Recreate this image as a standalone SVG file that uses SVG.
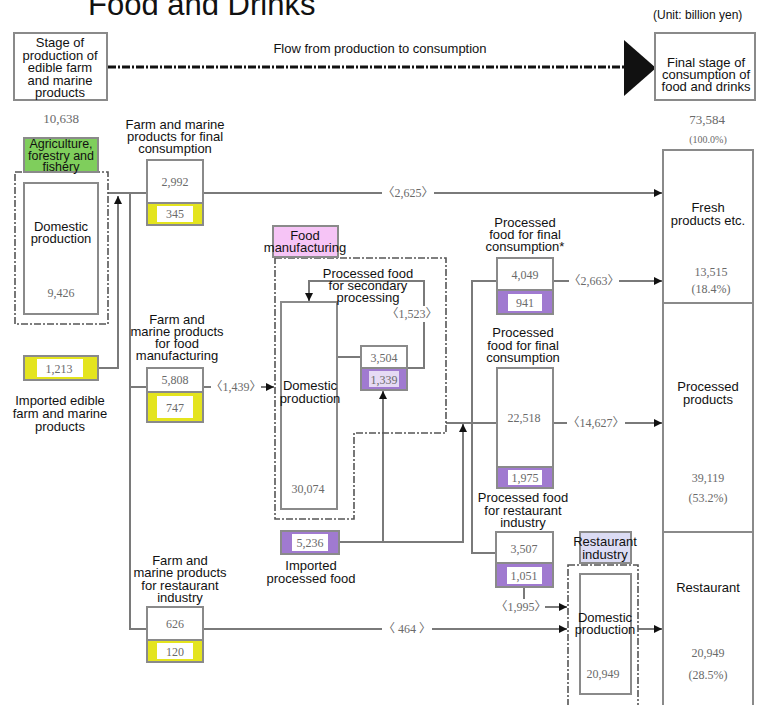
<svg xmlns="http://www.w3.org/2000/svg" width="759" height="705" viewBox="0 0 759 705">
<style>
.lbl{font-family:"Liberation Sans",Arial,sans-serif;font-size:13px;fill:#111;text-anchor:middle}
.num{font-family:"Liberation Serif","Times New Roman",serif;font-size:12px;fill:#6a6a6a;text-anchor:middle}
.br{font-family:"Liberation Serif","Noto Sans CJK JP",serif;font-size:12px;fill:#6a6a6a;text-anchor:middle}
.box{fill:#fff;stroke:#8a8a8a;stroke-width:2}
.yel{fill:#e4e41e;stroke:#8a8a8a;stroke-width:2}
.pur{fill:#a07ad0;stroke:#8a8a8a;stroke-width:2}
.inn{fill:#fff;stroke:none}
.dash{fill:none;stroke:#555;stroke-width:1.6;stroke-dasharray:7 2 2 2}
.con{fill:none;stroke:#7a7a7a;stroke-width:2}
.bg{fill:#fff}
</style>
<defs>
<marker id="ah" markerUnits="userSpaceOnUse" markerWidth="9" markerHeight="9" refX="8" refY="4.5" orient="auto">
<path d="M0,0.5 L8,4.5 L0,8.5 Z" fill="#111"/>
</marker>
</defs>
<rect width="759" height="705" fill="#fff"/>

<text x="88" y="15" style="font-family:'Liberation Sans',Arial,sans-serif;font-size:31px;fill:#111">Food and Drinks</text>
<text x="653" y="19" style="font-family:'Liberation Sans',Arial,sans-serif;font-size:12px;fill:#111">(Unit: billion yen)</text>

<g id="connectors">
<line x1="108" y1="67" x2="626" y2="67" style="stroke:#111;stroke-width:3;stroke-dasharray:8 2 2 2"/>
<polygon points="624,40 624,96 656,68" fill="#111"/>
<path class="con" d="M108,193 H147"/>
<path class="con" d="M130,193 V629 H147"/>
<path class="con" d="M130,387 H147"/>
<path class="con" d="M98,368 H118 V196" marker-end="url(#ah)"/>
<path class="con" d="M203,193 H662" marker-end="url(#ah)"/>
<path class="con" d="M203,387 H274" marker-end="url(#ah)"/>
<path class="con" d="M337,357 H361"/>
<path class="con" d="M407,368 H424 V281 H309 V301" marker-end="url(#ah)"/>
<path class="con" d="M339,542 H463 V424" marker-end="url(#ah)"/>
<path class="con" d="M383,542 V391" marker-end="url(#ah)"/>
<path class="con" d="M446,423 H497"/>
<path class="con" d="M497,281 H472 V553 H497"/>
<path class="con" d="M553,281 H662" marker-end="url(#ah)"/>
<path class="con" d="M553,423 H662" marker-end="url(#ah)"/>
<path class="con" d="M524,587 V607 H567" marker-end="url(#ah)"/>
<path class="con" d="M203,629 H567" marker-end="url(#ah)"/>
<path class="con" d="M638,629 H662" marker-end="url(#ah)"/>
<rect class="bg" x="382" y="185" width="52" height="16"/>
<text class="br" x="408" y="197">〈2,625〉</text>
<rect class="bg" x="211" y="379" width="50" height="16"/>
<text class="br" x="236" y="391">〈1,439〉</text>
<rect class="bg" x="388" y="306" width="48" height="16"/>
<text class="br" x="412" y="318">〈1,523〉</text>
<rect class="bg" x="569" y="273" width="50" height="16"/>
<text class="br" x="594" y="285">〈2,663〉</text>
<rect class="bg" x="567" y="415" width="58" height="16"/>
<text class="br" x="596" y="427">〈14,627〉</text>
<rect class="bg" x="498" y="599" width="47" height="16"/>
<text class="br" x="521" y="611">〈1,995〉</text>
<rect class="bg" x="382" y="621" width="50" height="16"/>
<text class="br" x="407" y="633">〈 464 〉</text>
</g>

<g id="stage-production">
<rect class="box" x="14" y="33" width="93" height="67"/>
<text class="lbl" y="47"><tspan x="60">Stage of</tspan><tspan x="60" dy="12.5">production of</tspan><tspan x="60" dy="12.5">edible farm</tspan><tspan x="60" dy="12.5">and marine</tspan><tspan x="60" dy="12.5">products</tspan></text>
<text class="num" x="61" y="123" style="font-size:13px">10,638</text>
</g>

<g id="flow-label">
<text class="lbl" x="380" y="53">Flow from production to consumption</text>
</g>

<g id="stage-consumption">
<rect class="box" x="655" y="33" width="100" height="67"/>
<text class="lbl" y="67"><tspan x="706">Final stage of</tspan><tspan x="706" dy="12">consumption of</tspan><tspan x="706" dy="12">food and drinks</tspan></text>
<text class="num" x="707" y="124" style="font-size:13px">73,584</text>
<text class="num" x="708" y="143" style="font-size:10px">(100.0%)</text>
</g>

<g id="agriculture">
<rect x="15" y="172" width="93" height="152" class="dash"/>
<rect x="24" y="138" width="74" height="34" fill="#7fce5c" stroke="#8a8a8a" stroke-width="2"/>
<text class="lbl" y="148" style="font-size:12.5px"><tspan x="61">Agriculture,</tspan><tspan x="61" dy="12">forestry and</tspan><tspan x="61" dy="11">fishery</tspan></text>
<rect class="box" x="24" y="183" width="74" height="131"/>
<text class="lbl" y="231"><tspan x="61">Domestic</tspan><tspan x="61" dy="12">production</tspan></text>
<text class="num" x="61" y="297">9,426</text>
</g>

<g id="imported-farm">
<rect class="yel" x="24" y="356" width="74" height="24"/>
<rect class="inn" x="37" y="359" width="46" height="18"/>
<text class="num" x="59" y="373">1,213</text>
<text class="lbl" y="405"><tspan x="60">Imported edible</tspan><tspan x="60" dy="13">farm and marine</tspan><tspan x="60" dy="13">products</tspan></text>
</g>

<g id="farm-final">
<text class="lbl" y="129"><tspan x="175">Farm and marine</tspan><tspan x="175" dy="12">products for final</tspan><tspan x="175" dy="12">consumption</tspan></text>
<rect class="box" x="147" y="160" width="56" height="43"/>
<text class="num" x="175" y="186">2,992</text>
<rect class="yel" x="147" y="203" width="56" height="22"/>
<rect class="inn" x="157" y="206" width="36" height="16"/>
<text class="num" x="175" y="218">345</text>
</g>

<g id="farm-manufacturing">
<text class="lbl" y="324"><tspan x="177">Farm and</tspan><tspan x="177" dy="12">marine products</tspan><tspan x="177" dy="12">for food</tspan><tspan x="177" dy="12">manufacturing</tspan></text>
<rect class="box" x="147" y="368" width="56" height="24"/>
<text class="num" x="175" y="384">5,808</text>
<rect class="yel" x="147" y="392" width="56" height="30"/>
<rect class="inn" x="157" y="396" width="36" height="22"/>
<text class="num" x="175" y="412">747</text>
</g>

<g id="farm-restaurant">
<text class="lbl" y="565"><tspan x="180">Farm and</tspan><tspan x="180" dy="12.3">marine products</tspan><tspan x="180" dy="12.3">for restaurant</tspan><tspan x="180" dy="12.3">industry</tspan></text>
<rect class="box" x="147" y="607" width="56" height="33"/>
<text class="num" x="175" y="628">626</text>
<rect class="yel" x="147" y="640" width="56" height="22"/>
<rect class="inn" x="157" y="643" width="36" height="16"/>
<text class="num" x="175" y="656">120</text>
</g>

<g id="food-manufacturing">
<path class="dash" d="M275,258 H446 V433 H354 V519 H275 Z"/>
<rect x="273" y="226" width="65" height="31" fill="#f6c4f6" stroke="#8a8a8a" stroke-width="2"/>
<text class="lbl" y="240"><tspan x="305">Food</tspan><tspan x="305" dy="12">manufacturing</tspan></text>
<rect class="box" x="281" y="302" width="56" height="207"/>
<text class="lbl" y="390"><tspan x="310">Domestic</tspan><tspan x="310" dy="13">production</tspan></text>
<text class="num" x="308" y="493">30,074</text>
</g>

<g id="secondary-processing">
<text class="lbl" y="278"><tspan x="368">Processed food</tspan><tspan x="368" dy="12">for secondary</tspan><tspan x="368" dy="12">processing</tspan></text>
<rect class="box" x="361" y="346" width="46" height="22"/>
<text class="num" x="384" y="362">3,504</text>
<rect class="pur" x="361" y="368" width="46" height="22"/>
<rect x="369" y="371" width="30" height="16" style="fill:#e6daf4"/>
<text class="num" x="384" y="384">1,339</text>
</g>

<g id="imported-processed">
<rect class="pur" x="281" y="531" width="58" height="23"/>
<rect class="inn" x="292" y="534" width="36" height="17"/>
<text class="num" x="310" y="547">5,236</text>
<text class="lbl" y="570"><tspan x="311">Imported</tspan><tspan x="311" dy="13">processed food</tspan></text>
</g>

<g id="processed-final-star">
<text class="lbl" y="227"><tspan x="525">Processed</tspan><tspan x="525" dy="12">food for final</tspan><tspan x="525" dy="12">consumption*</tspan></text>
<rect class="box" x="497" y="258" width="56" height="32"/>
<text class="num" x="525" y="279">4,049</text>
<rect class="pur" x="497" y="290" width="56" height="24"/>
<rect class="inn" x="508" y="294" width="34" height="17"/>
<text class="num" x="525" y="307">941</text>
</g>

<g id="processed-final">
<text class="lbl" y="337"><tspan x="523">Processed</tspan><tspan x="523" dy="12.5">food for final</tspan><tspan x="523" dy="12.5">consumption</tspan></text>
<rect class="box" x="497" y="368" width="56" height="99"/>
<text class="num" x="524" y="422">22,518</text>
<rect class="pur" x="497" y="467" width="56" height="21"/>
<rect class="inn" x="508" y="470" width="34" height="15"/>
<text class="num" x="525" y="482">1,975</text>
</g>

<g id="processed-restaurant">
<text class="lbl" y="502"><tspan x="523">Processed food</tspan><tspan x="523" dy="12.5">for restaurant</tspan><tspan x="523" dy="12.5">industry</tspan></text>
<rect class="box" x="496" y="532" width="57" height="31"/>
<text class="num" x="524" y="553">3,507</text>
<rect class="pur" x="496" y="563" width="57" height="24"/>
<rect class="inn" x="507" y="567" width="35" height="17"/>
<text class="num" x="524" y="580">1,051</text>
</g>

<g id="restaurant-industry">
<rect x="568" y="565" width="70" height="150" class="dash"/>
<rect x="580" y="532" width="51" height="31" fill="#dcdcf4" stroke="#8a8a8a" stroke-width="2"/>
<text class="lbl" y="546"><tspan x="605">Restaurant</tspan><tspan x="605" dy="13">industry</tspan></text>
<rect class="box" x="580" y="574" width="51" height="120"/>
<text class="lbl" y="622"><tspan x="605">Domestic</tspan><tspan x="605" dy="12">production</tspan></text>
<text class="num" x="603" y="678">20,949</text>
</g>

<g id="final-consumption">
<rect x="663" y="150" width="90" height="570" fill="#fff" stroke="#8a8a8a" stroke-width="2"/>
<line x1="663" y1="303" x2="753" y2="303" stroke="#8a8a8a" stroke-width="2"/>
<line x1="663" y1="532" x2="753" y2="532" stroke="#8a8a8a" stroke-width="2"/>
<text class="lbl" y="212"><tspan x="708">Fresh</tspan><tspan x="708" dy="13">products etc.</tspan></text>
<text class="num" y="276"><tspan x="711">13,515</tspan><tspan x="711" dy="17">(18.4%)</tspan></text>
<text class="lbl" y="391"><tspan x="708">Processed</tspan><tspan x="708" dy="13">products</tspan></text>
<text class="num" y="482"><tspan x="708">39,119</tspan><tspan x="708" dy="20">(53.2%)</tspan></text>
<text class="lbl" x="708" y="592">Restaurant</text>
<text class="num" y="657"><tspan x="708">20,949</tspan><tspan x="708" dy="22">(28.5%)</tspan></text>
</g>
</svg>
